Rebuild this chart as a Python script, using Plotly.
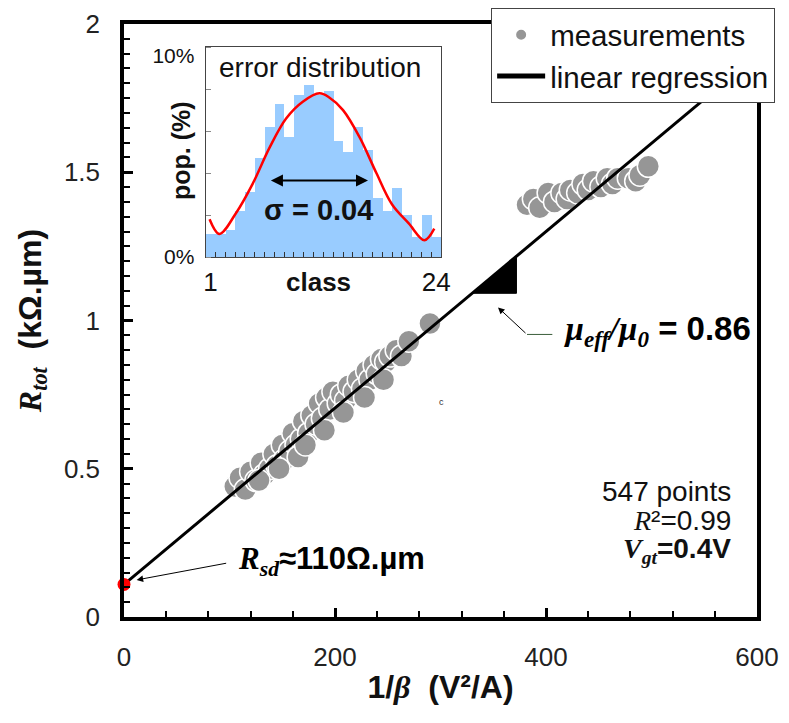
import plotly.graph_objects as go

# ---------------- data ----------------
# measurements (1/beta in V^2/A, Rtot in kOhm.um)
meas_x = [105, 110, 115, 120, 125, 130, 133, 138, 142, 145, 150, 152, 157, 160, 163,
          168, 170, 175, 178, 182, 185, 188, 192, 195, 198, 203, 206, 210, 213, 218,
          222, 226, 230, 233, 237, 240, 244, 248, 252, 258, 263, 270, 290,
          128, 147, 165, 172, 190, 208, 228, 246,
          382, 388, 394, 402, 408, 415, 420, 423, 430, 435, 440, 445, 452, 458, 463,
          468, 478, 485, 489, 497]
meas_y = [0.44, 0.47, 0.43, 0.49, 0.46, 0.52, 0.48, 0.50, 0.55, 0.51, 0.58, 0.53, 0.56, 0.62, 0.58,
          0.60, 0.66, 0.62, 0.68, 0.65, 0.72, 0.67, 0.74, 0.70, 0.76, 0.72, 0.75, 0.73, 0.78, 0.76,
          0.80, 0.77, 0.83, 0.80, 0.85, 0.82, 0.87, 0.86, 0.88, 0.90, 0.88, 0.93, 0.99,
          0.46, 0.50, 0.54, 0.58, 0.63, 0.69, 0.74, 0.80,
          1.39, 1.41, 1.38, 1.43, 1.40, 1.43, 1.41, 1.44, 1.43, 1.46, 1.44, 1.47, 1.45, 1.48, 1.46,
          1.48, 1.48, 1.47, 1.49, 1.52]

# linear regression end points
reg_x = [0, 600]
reg_y = [0.11, 1.895]

# Rsd intercept point
rsd_x = [0]
rsd_y = [0.11]

# inset: error distribution histogram
classes = list(range(1, 25))
pop_pct = [1.1, 1.1, 1.3, 2.2, 3.1, 4.7, 6.2, 7.3, 5.7, 7.7, 8.2, 7.7,
           7.9, 5.5, 5.0, 6.2, 5.1, 2.8, 2.2, 3.3, 2.0, 0.95, 2.0, 0.95]
fit_class = [0.9, 1.9, 3.6, 5.3, 7.0, 8.7, 10.4, 12.1, 13.1, 14.5, 16.2, 17.9, 19.5, 21.2, 22.8, 23.8]
fit_pct = [1.8, 1.1, 2.1, 3.5, 5.2, 6.6, 7.4, 7.8, 7.6, 7.0, 5.7, 4.0, 2.5, 1.6, 0.8, 1.35]

SANS = "Arial, Liberation Sans, sans-serif"
SERIF = "Liberation Serif"

fig = go.Figure()

fig.add_trace(go.Scatter(
    x=meas_x, y=meas_y, mode="markers", name="measurements",
    marker=dict(size=22, color="rgb(150,150,150)", line=dict(color="white", width=1.5)),
))
fig.add_trace(go.Scatter(
    x=reg_x, y=reg_y, mode="lines", name="linear regression",
    line=dict(color="black", width=3),
))
fig.add_trace(go.Scatter(
    x=rsd_x, y=rsd_y, mode="markers", showlegend=False, cliponaxis=False,
    marker=dict(size=13, color="red"),
))

# inset
fig.add_trace(go.Bar(
    x=classes, y=pop_pct, xaxis="x2", yaxis="y2", showlegend=False,
    marker=dict(color="rgb(153,204,255)", line=dict(width=0)), width=1.0,
))
fig.add_trace(go.Scatter(
    x=fit_class, y=fit_pct, xaxis="x2", yaxis="y2", mode="lines", showlegend=False,
    line=dict(color="red", width=2.5, shape="spline"),
))

# slope triangle derived from regression
slope = (reg_y[1] - reg_y[0]) / (reg_x[1] - reg_x[0])
tx0, tx1 = 330, 372
ty0 = reg_y[0] + slope * tx0
ty1 = reg_y[0] + slope * tx1
fig.add_shape(type="path", xref="x", yref="y",
              path=f"M {tx0},{ty0} L {tx1},{ty1} L {tx1},{ty0} Z",
              fillcolor="black", line=dict(color="black", width=1))
# thin leader line for mu annotation
fig.add_shape(type="line", xref="x", yref="y", x0=382, x1=406, y0=0.953, y1=0.953,
              line=dict(color="#3b5e3b", width=1))

ann = []
# Rsd
ann.append(dict(x=12, y=0.125, xref="x", yref="y", text="", showarrow=True,
                ax=91, ay=-17, arrowhead=2, arrowsize=1.3, arrowwidth=1, arrowcolor="black"))
ann.append(dict(x=106, y=0.19, xref="x", yref="y", xanchor="left", yanchor="middle",
                text=f"<b><i><span style='font-family:{SERIF}'>R<sub>sd</sub></span></i>≈110Ω.µm</b>",
                showarrow=False, font=dict(size=31, family=SANS, color="black")))
# mu_eff/mu_0
ann.append(dict(x=354.5, y=1.044, xref="x", yref="y", text="", showarrow=True,
                ax=29, ay=27, arrowhead=2, arrowsize=1.3, arrowwidth=1, arrowcolor="black"))
ann.append(dict(x=415, y=0.963, xref="x", yref="y", xanchor="left", yanchor="middle",
                text=f"<b><i><span style='font-family:{SERIF}'>µ<sub>eff</sub>/µ<sub>0</sub></span></i> = 0.86</b>",
                showarrow=False, font=dict(size=33, family=SANS, color="black")))
# stray small c
ann.append(dict(x=300.5, y=0.726, xref="x", yref="y", text="c", showarrow=False,
                font=dict(size=9, family=SANS, color="#333")))
# stats block
ann.append(dict(x=0.962, y=0.211, xref="paper", yref="paper", xanchor="right", yanchor="middle",
                text="547 points", showarrow=False, font=dict(size=28, family=SANS, color="#111")))
ann.append(dict(x=0.962, y=0.162, xref="paper", yref="paper", xanchor="right", yanchor="middle",
                text=f"<i><span style='font-family:{SERIF}'>R</span></i>²=0.99", showarrow=False,
                font=dict(size=28, family=SANS, color="#111")))
ann.append(dict(x=0.962, y=0.112, xref="paper", yref="paper", xanchor="right", yanchor="middle",
                text=f"<b><i><span style='font-family:{SERIF}'>V<sub>gt</sub></span></i>=0.4V</b>",
                showarrow=False, font=dict(size=28, family=SANS, color="#111")))
# inset texts
ann.append(dict(x=0.3096, y=0.926, xref="paper", yref="paper", xanchor="center", yanchor="middle",
                text="error distribution",
                showarrow=False, font=dict(size=28, family=SANS, color="#111")))
ann.append(dict(x=7.15, y=3.65, xref="x2", yref="y2", ax=17.2, ay=3.65, axref="x2", ayref="y2",
                text="", showarrow=True, arrowhead=2, startarrowhead=2, arrowside="end+start",
                arrowsize=1.2, startarrowsize=1.2, arrowwidth=2, arrowcolor="black"))
ann.append(dict(x=0.3065, y=0.686, xref="paper", yref="paper", xanchor="center", yanchor="middle",
                text="<b>σ = 0.04</b>",
                showarrow=False, font=dict(size=29, family=SANS, color="#111")))
ann.append(dict(x=0.090, y=0.7875, xref="paper", yref="paper", xanchor="center", yanchor="middle",
                text="<b>pop. (%)</b>", textangle=-90,
                showarrow=False, font=dict(size=25, family=SANS, color="#111")))
ann.append(dict(x=0.3065, y=0.565, xref="paper", yref="paper", xanchor="center", yanchor="middle",
                text="<b>class</b>",
                showarrow=False, font=dict(size=26, family=SANS, color="#111")))

fig.update_layout(
    width=789, height=723,
    # the page body adds an 8px offset; margins compensate for it
    margin=dict(l=116, r=40, t=16, b=114, autoexpand=False),
    paper_bgcolor="white", plot_bgcolor="white",
    font=dict(family=SANS, color="#222"),
    bargap=0,
    showlegend=True,
    legend=dict(x=0.58, y=1.027, xanchor="left", yanchor="top",
                bgcolor="white", bordercolor="#444", borderwidth=1,
                font=dict(size=29.5, family=SANS, color="#111"),
                itemsizing="constant", itemwidth=48, tracegroupgap=0),
    xaxis=dict(range=[0, 600], dtick=200, ticks="inside", ticklen=9, tickwidth=2.5,
               tickcolor="black", showline=True, linewidth=3.5, linecolor="black", mirror=True,
               showgrid=False, zeroline=False, automargin=False,
               minor=dict(ticks="inside", dtick=40, ticklen=6, tickwidth=2, tickcolor="black"),
               tickfont=dict(size=26, family=SANS, color="#222"), ticklabelstandoff=14,
               title=dict(text=f"<b>1/<i><span style='font-family:{SERIF}'>β</span></i>  (V²/A)</b>",
                          font=dict(size=32, family=SANS, color="#111"), standoff=6)),
    yaxis=dict(range=[0, 2], dtick=0.5, ticks="inside", ticklen=9, tickwidth=2.5,
               tickcolor="black", showline=True, linewidth=3.5, linecolor="black", mirror=True,
               showgrid=False, zeroline=False, automargin=False,
               minor=dict(ticks="inside", dtick=0.05, ticklen=6, tickwidth=2, tickcolor="black"),
               tickfont=dict(size=26, family=SANS, color="#222"), ticklabelstandoff=15,
               title=dict(text=f"<b><i><span style='font-family:{SERIF}'>R<sub>tot</sub></span></i>  (kΩ.µm)</b>",
                          font=dict(size=32, family=SANS, color="#111"), standoff=14)),
    xaxis2=dict(domain=[0.129, 0.501], anchor="y2", range=[0.5, 24.5],
                tickvals=[1, 24], ticks="inside", ticklen=0, tickcolor="#444",
                showline=True, linewidth=1, linecolor="#444", mirror=True, showgrid=False,
                zeroline=False, automargin=False,
                minor=dict(ticks="inside", tick0=0.5, dtick=1, ticklen=5, tickwidth=1.2, tickcolor="#333"),
                tickfont=dict(size=26, family=SANS, color="#111"), ticklabelstandoff=2),
    yaxis2=dict(domain=[0.607, 0.961], anchor="x2", range=[0, 10],
                tickvals=[0, 9.6], ticktext=["0%", "10%"], ticks="", showline=True, linewidth=1,
                linecolor="#444", mirror=True, showgrid=False, zeroline=False, automargin=False,
                minor=dict(ticks="inside", tick0=0, dtick=2, ticklen=5, tickwidth=1, tickcolor="#888"),
                tickfont=dict(size=21, family=SANS, color="#111"), ticklabelstandoff=6),
    annotations=ann,
)

fig.write_html("out.html")
